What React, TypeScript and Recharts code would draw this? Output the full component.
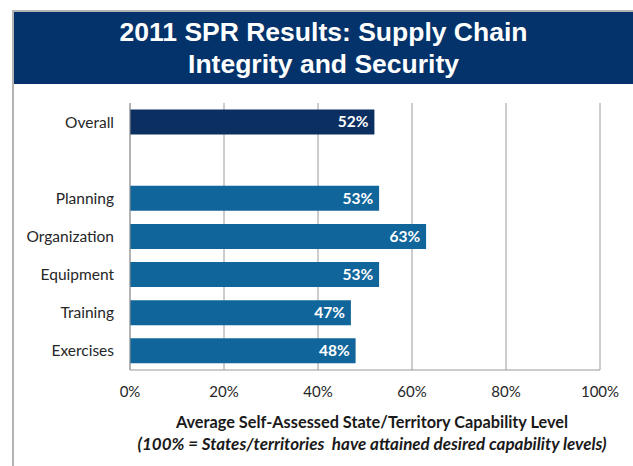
import { Bar, BarChart, CartesianGrid, Cell, LabelList, XAxis, YAxis } from "recharts"

const categories = ["Overall", "", "Planning", "Organization", "Equipment", "Training", "Exercises"]
const values = [52, null, 53, 63, 53, 47, 48]
const xTicks = [0, 20, 40, 60, 80, 100]

const NAVY = "#0a2f60"
const BLUE = "#10659a"
const FONT = "Lato, 'Open Sans', sans-serif"

const data = categories.map((name, i) => ({ name, value: values[i] }))

export default function App() {
  return (
    <div style={{ position: "absolute", left: 0, top: 0, width: 633, height: 466, background: "#fff", overflow: "hidden" }}>
      {/* frame */}
      <div
        style={{
          position: "absolute",
          left: 12,
          top: 10,
          width: 640,
          height: 470,
          borderTop: "2px solid #b3b3b3",
          borderLeft: "2px solid #b3b3b3",
        }}
      />
      <div
        style={{
          position: "absolute",
          left: 14,
          top: 12,
          width: 619,
          height: 72,
          background: "#03336a",
          color: "#fff",
          fontFamily: "'Liberation Sans', Arial, sans-serif",
          fontWeight: 700,
          fontSize: 26.5,
          lineHeight: "32px",
          textAlign: "center",
          paddingTop: 4,
          boxSizing: "border-box",
        }}
      >
        2011 SPR Results: Supply Chain
        <br />
        Integrity and Security
      </div>

      <div style={{ position: "absolute", left: 0, top: 0 }}>
        <BarChart
          width={633}
          height={466}
          data={data}
          layout="vertical"
          margin={{ top: 103, right: 33, bottom: 66, left: 0 }}
          barCategoryGap="17%"
        >
          <CartesianGrid horizontal={false} stroke="#9a9a9a" />
          <XAxis
            type="number"
            domain={[0, 100]}
            ticks={xTicks}
            tickFormatter={(v) => `${v}%`}
            tick={{ fill: "#262626", fontSize: 15, fontFamily: FONT }}
            axisLine={{ stroke: "#9a9a9a" }}
            tickLine={false}
            tickSize={0}
            tickMargin={16}
            height={30}
          />
          <YAxis
            type="category"
            dataKey="name"
            width={130}
            tick={{ fill: "#262626", fontSize: 15.5, fontFamily: FONT }}
            axisLine={{ stroke: "#9a9a9a" }}
            tickLine={false}
            tickSize={0}
            tickMargin={16}
            interval={0}
          />
          <Bar dataKey="value" isAnimationActive={false}>
            {data.map((d, i) => (
              <Cell key={i} fill={d.name === "Overall" ? NAVY : BLUE} />
            ))}
            <LabelList
              dataKey="value"
              position="insideRight"
              offset={6}
              formatter={(v: number) => (v == null ? "" : `${v}%`)}
              style={{ fill: "#fff", fontSize: 15.5, fontWeight: 700, fontFamily: FONT }}
            />
          </Bar>
        </BarChart>
      </div>

      <div
        style={{
          position: "absolute",
          left: 122,
          width: 500,
          top: 411,
          textAlign: "center",
          fontFamily: FONT,
          fontWeight: 700,
          fontSize: 16.3,
          lineHeight: "22px",
          color: "#1a1a1a",
          whiteSpace: "nowrap",
        }}
      >
        Average Self-Assessed State/Territory Capability Level
        <br />
        <i style={{ fontSize: 17 }}>(100% = States/territories&nbsp; have attained desired capability levels)</i>
      </div>
    </div>
  )
}
